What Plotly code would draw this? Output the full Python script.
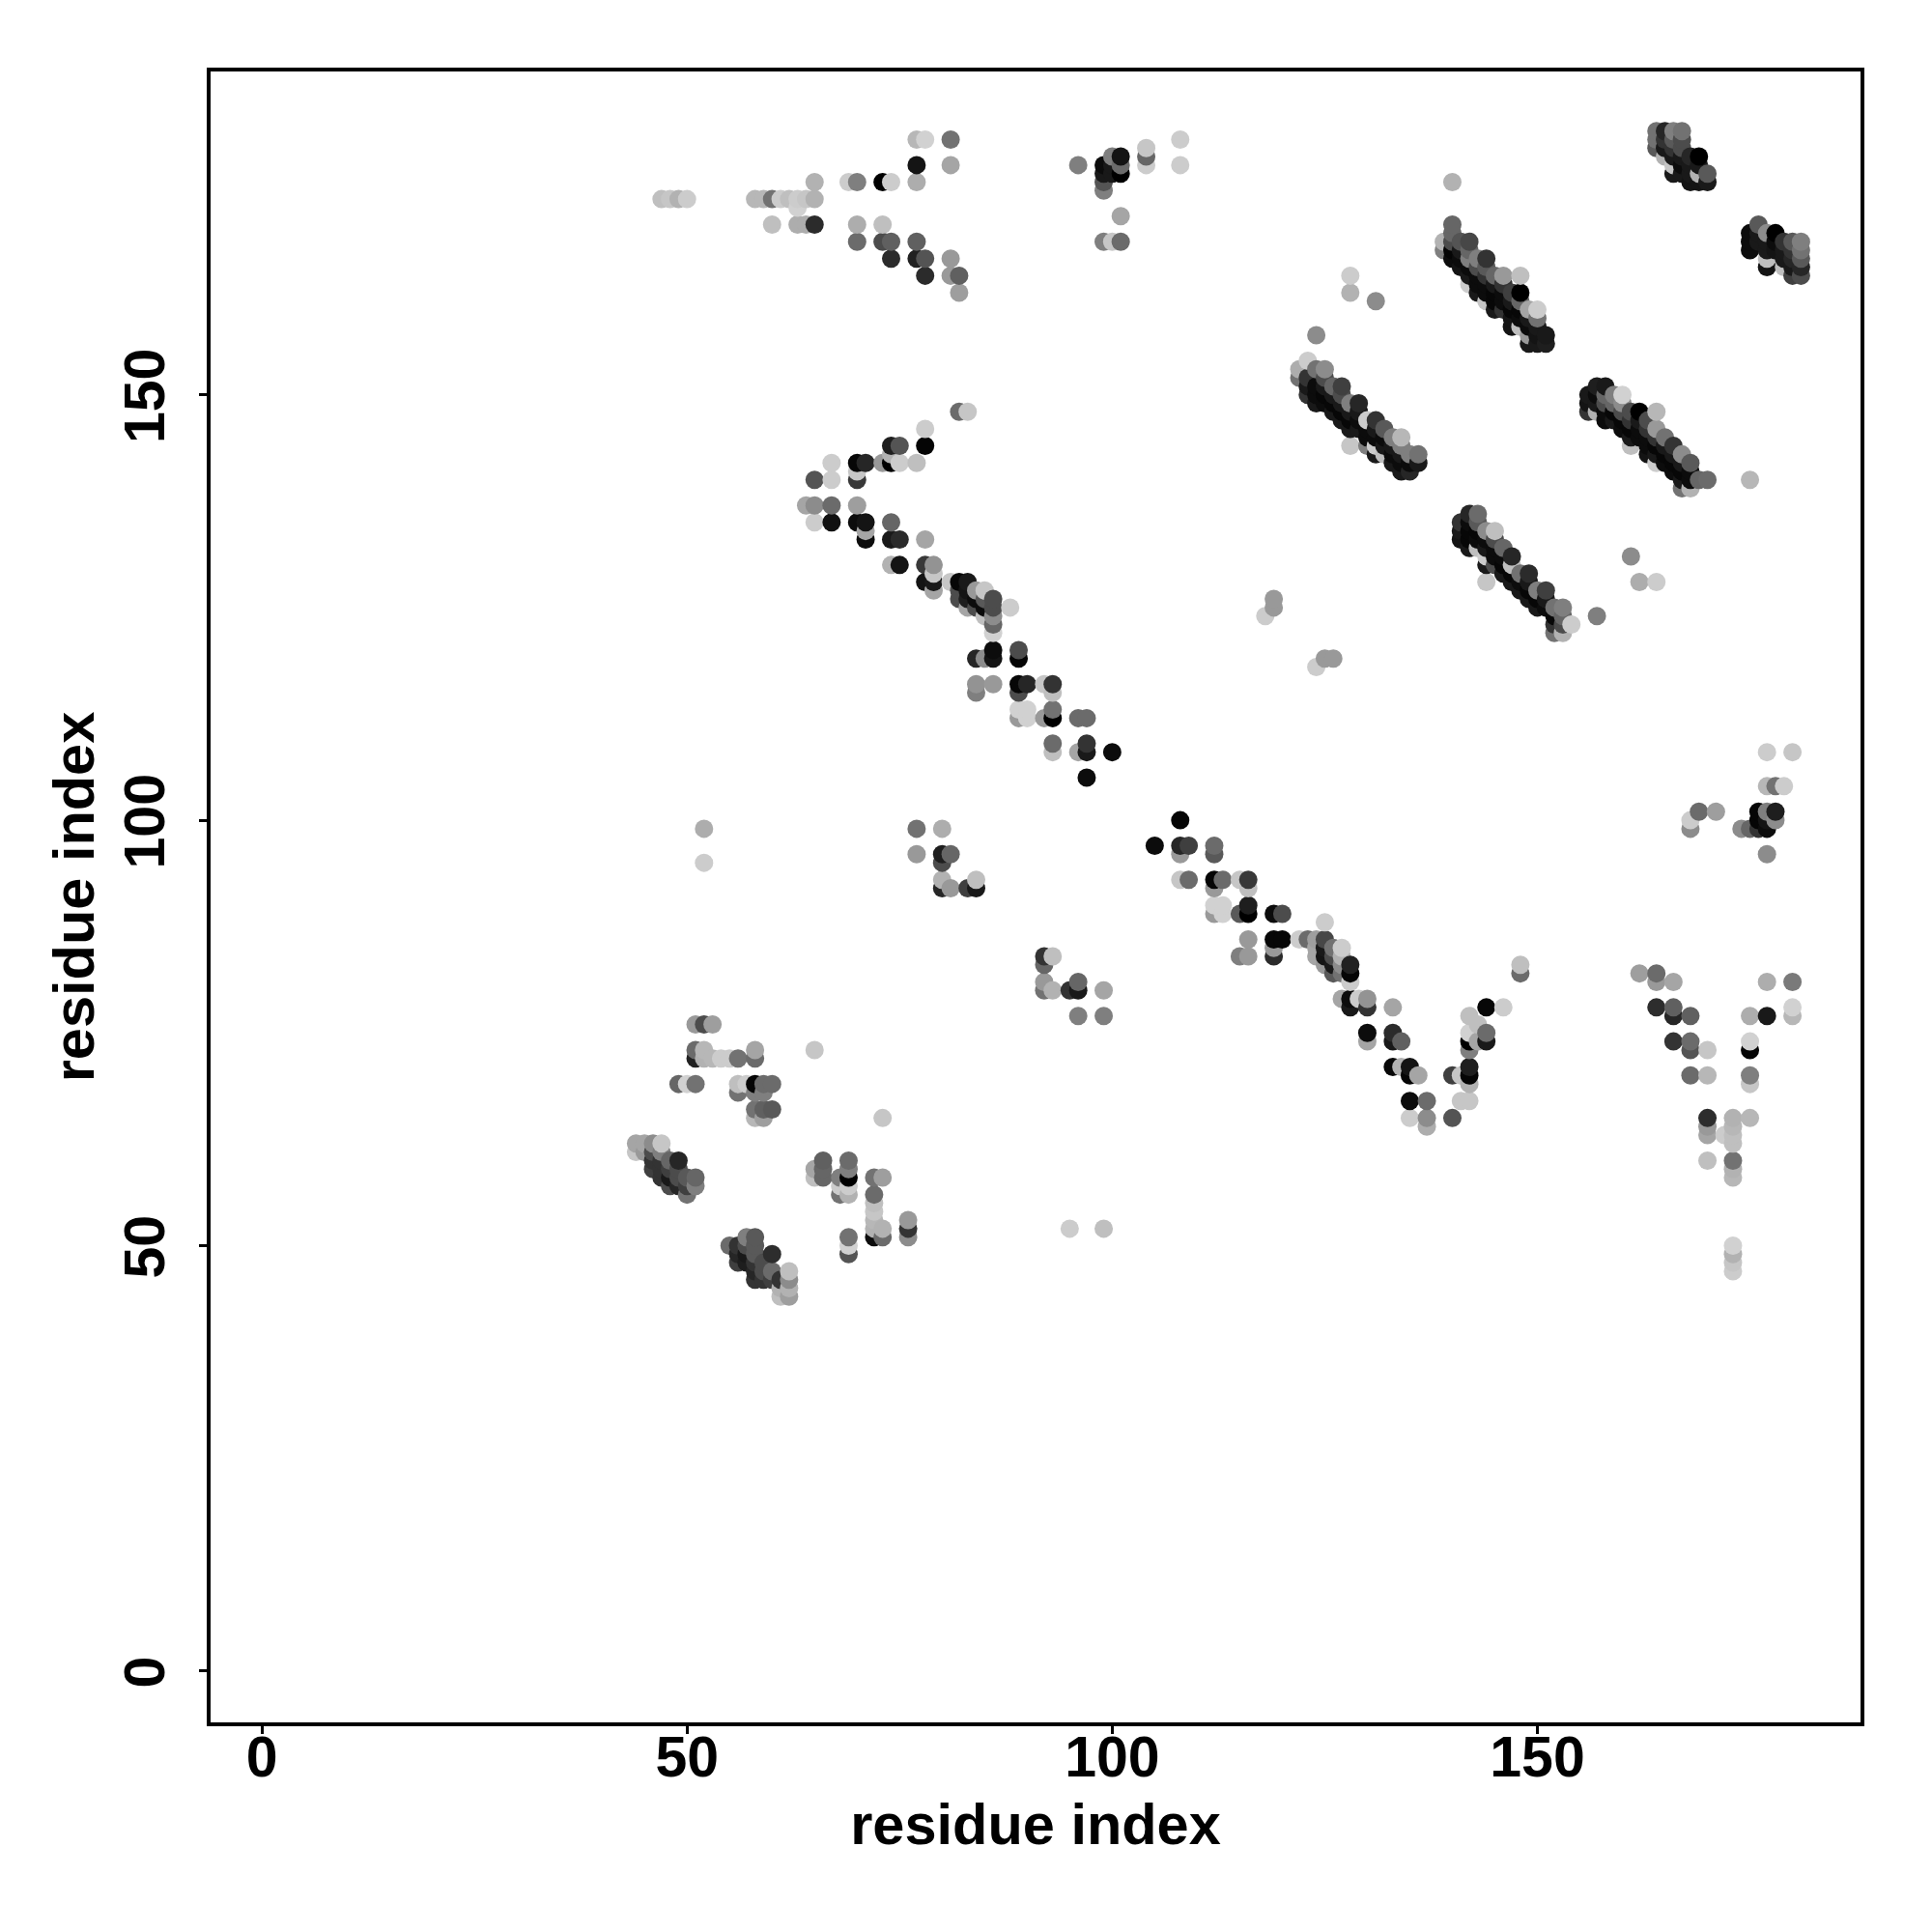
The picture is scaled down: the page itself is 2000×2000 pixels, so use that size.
import numpy as np
import plotly.graph_objects as go

tick_values = [0, 50, 100, 150]
axis_label = "residue index"

top_left_x = [77,78,81,77,81,96,104,108,108,104,104,65,69,70,73,74,77,47,48,49,50,58,59,60,61,62,63,64,65,63,60,63,64,65,70,73,70,73,74,77,99,100,101,74,77,78,81,78,81,82,82,100,101,99,101,99,100,101,99,99,101,100]
top_left_y = [180,180,180,177,177,177,177,177,180,179,178,175,175,175,175,175,175,173,173,173,173,173,173,173,173,173,173,173,173,172,170,170,170,170,170,170,168,168,168,168,168,168,168,166,166,166,166,164,164,164,162,178,178,177,177,176,176,176,175,174,171,177]
top_left_s = [.72,.82,.45,.08,.65,.5,.8,.8,.8,.78,.4,.7,.8,.5,0,.8,.68,.75,.78,.7,.8,.72,.72,.45,.8,.75,.8,.78,.7,.82,.75,.68,.68,.17,.68,.75,.42,.3,.38,.38,.5,.78,.42,.17,.13,.33,.6,.17,.6,.38,.62,.5,.08,.05,.42,.1,.1,0,.33,.5,.65,.1]

chain_a_x = [82,83,78,74,75,78,73,74,75,77,70,71,67,65,67,70,70,74,64,65,67,70,65,67,70,71,74,71,71,74,75,78,74,75,78,79,79,78,79,81,82,83,79,82,83,84,85,82,83,84,85,86,83,84,85,86,88,85,86,86,86,86,89,84,85,86,89,84,86,89,90,92,93,84,89,93,89,90,93,89,90,92,93,96,97,93,97,93,96,97,100,97]
chain_a_y = [148,148,146,144,144,144,142,142,142,142,142,142,142,140,140,140,141,143,137,137,137,137,135,135,135,135,135,134,133,133,133,133,130,130,130,130,129,128,128,128,128,128,127,127,127,127,127,126,126,126,126,126,125,125,125,125,125,124,124,123,122,120,120,119,119,119,119,116,116,116,116,116,116,115,115,115,113,113,113,112,112,112,112,112,112,109,109,108,108,108,108,105]
chain_a_s = [.42,.78,.8,.12,.33,.02,.6,0,.8,.75,.03,.15,.8,.33,.8,.22,.78,.7,.65,.55,.42,.62,.8,.07,.05,.08,.4,.65,.05,.1,.17,.65,.7,.08,.22,.58,.78,.08,.1,.78,.03,.1,.65,.3,.08,.6,.78,.3,.12,.05,.35,.3,.65,.3,.05,.3,.8,.75,.55,.4,.82,.05,.3,.15,.55,.08,.02,.58,.6,.03,.15,.78,.2,.5,.3,.75,.82,.82,.45,.6,.82,.6,0,.42,.42,.42,.2,.75,.65,.1,.05,.05]

chain_b_x = [108,105,108,109,112,108,112,108,109,112,113,115,116,112,116,116,112,113,112,113,115,116,119,120,125,116,119,120,122,123,124,125,119,124,125,126,127,115,116,119,124,125,126,127,125,126,127,128,126,127,128,148,148,128,127,128,129,130,128,130,133,144,146,142,130,133,142,144,130,133,134,142,143,144,142,133,134,135,142,135,136,140,141,142,135,137,141,142,135,137,140,137,142,143]
chain_b_y = [100,97,97,97,97,96,96,93,93,93,93,93,93,92,92,90,90,90,89,89,89,89,89,89,88,86,86,86,86,86,86,86,85,85,85,85,85,84,84,84,84,84,84,84,83,83,83,83,82,82,82,82,83,81,79,79,79,79,78,78,78,78,78,77,75,75,75,75,74,74,74,74,74,74,73,71,71,71,71,70,70,70,70,70,67,67,67,67,65,65,65,64,69,76]
chain_b_s = [.02,.05,.15,.25,.42,.6,.35,.78,.42,.02,.42,.78,.22,.6,.75,.12,.82,.82,.6,.82,.35,0,.05,.3,.8,.6,.03,.03,.8,.42,.62,.28,.6,.65,.1,.45,.8,.5,.6,.17,.65,.08,.3,.7,.6,.1,.55,.13,.35,.45,.02,.42,.75,.8,.65,.05,.8,.58,.1,.2,.65,.03,.8,.75,.05,.17,.82,.42,.65,.1,.38,0,.65,.1,.5,.03,.7,.08,.12,.02,.65,.25,.78,.02,.05,.42,.78,.78,.8,.55,.33,.68,.7,.75]

right_x = [169,171,176,177,178,168,176,177,178,168,174,175,176,177,177,177,180,177,178,179,162,164,164,166,177,180,164,166,180,166,168,175,177,180,166,168,175,168,170,175,168,170,175,175,170,173,175,170,170,172,173,173,173,170,173,173,173,173,173,173,173]
right_y = [101,101,101,101,101,100,100,100,100,99,99,99,99,99,96,108,108,104,104,104,82,82,81,81,81,81,78,78,78,77,77,77,77,77,74,74,74,73,73,73,70,70,70,69,65,65,65,64,63,63,64,63,62,60,60,59,58,50,49,48,47]
right_s = [.42,.62,.02,.5,.12,.8,.02,.08,.55,.55,.55,.4,.2,.05,.55,.8,.78,.72,.45,.8,.62,.42,.6,.65,.68,.48,.18,.38,.82,.15,.38,.68,.1,.72,.2,.42,.82,.33,.78,.02,.42,.72,.5,.78,.18,.7,.72,.6,.65,.8,.72,.75,.75,.75,.45,.7,.72,.82,.7,.78,.8]

low_left_x = [51,52,53,51,52,58,65,51,52,53,54,55,56,58,49,50,51,56,57,58,59,60,56,58,59,58,59,60,58,59,73,44,45,46,47,44,45,46,47,46,47,48,49,46,47,48,49,47,48,49,50,51,48,49,50,51,50]
low_left_y = [76,76,76,73,73,73,73,72,72,72,72,72,72,72,69,69,69,69,69,69,69,69,68,68,68,66,66,66,65,65,65,62,62,62,62,61,61,61,61,60,60,60,60,59,59,59,59,58,58,58,58,58,57,57,57,57,56]
low_left_s = [.6,.3,.62,.42,.72,.65,.78,.13,.7,.72,.8,.8,.45,.42,.4,.82,.45,.75,.8,.02,.42,.42,.45,.5,.5,.45,.38,.35,.72,.62,.78,.65,.65,.55,.78,.78,.6,.3,.5,.2,.2,.4,.15,.25,.2,.25,.3,.2,.1,.3,.35,.4,.3,.15,.25,.5,.45]

low_mid_x = [57,58,55,56,57,58,56,57,58,60,56,57,58,59,58,59,60,62,58,59,60,61,62,61,62,61,62,66,69,65,66,69,65,66,68,69,72,73,68,69,68,69,72,72,72,72,76,72,73,76,69,72,73,76,69,69,95,99,52,52,77,80,77,80,81,80,80,84,80,81,83,84,92,93,92,92,92,93,95,96,96,99,96,99]
low_mid_y = [51,51,50,50,50,50,49,49,49,49,48,48,48,48,47,47,47,47,46,46,46,46,46,45,45,44,44,60,60,59,59,59,58,58,58,58,58,58,57,57,56,56,56,55,54,53,53,52,52,52,51,51,51,51,50,49,52,52,99,95,99,99,96,96,96,95,93,93,92,92,92,92,84,84,83,81,80,80,80,81,80,80,77,77]
low_mid_s = [.5,.35,.42,.2,.3,.35,.15,.1,.35,.18,.25,.12,.2,.3,.15,.3,.42,.75,.2,.2,.25,.2,.55,.7,.7,.75,.62,.38,.42,.65,.4,.5,.75,.4,.5,0,.45,.62,.8,.8,.45,.7,.42,.75,.78,.72,.6,.7,.7,.2,.45,.05,.42,.55,.82,.33,.8,.75,.68,.8,.45,.68,.6,.12,.4,.3,.7,.75,.15,.6,.25,.1,.2,.75,.4,.6,.45,.7,.2,.4,.1,.65,.5,.5]

sparse_x = [118,119,119,124,125,126,157,161,162,164,124,128,128,131,175,140]
sparse_y = [124,126,125,118,119,119,124,131,128,128,157,164,162,161,140,175]
sparse_s = [.8,.6,.6,.8,.6,.6,.5,.55,.68,.8,.55,.8,.7,.55,.72,.7]

band1_x = [139,139,140,140,140,140,140,141,141,141,141,142,142,142,142,142,142,143,143,143,143,143,144,144,144,144,144,144,145,145,145,145,145,146,146,146,146,146,147,147,147,147,147,148,148,148,148,148,148,149,149,149,149,149,150,150,150,150,150,151,151]
band1_y = [167,168,166,167,168,169,170,165,166,167,168,163,164,165,166,167,168,162,163,164,165,166,161,162,163,164,165,166,160,161,162,163,164,160,161,162,163,164,158,159,160,161,162,158,159,160,161,162,164,156,157,158,159,160,156,157,158,159,160,156,157]
band1_s = [.5,.7,.05,.02,.3,.4,.4,.08,.05,.1,.33,.8,.1,.05,.5,.4,.28,.1,.05,.05,.3,.5,.78,.05,.05,.2,.35,.2,.1,.03,.03,.1,.4,.2,.05,.05,.2,.6,.08,.08,.03,.1,.25,.75,.05,.03,.4,0,.75,.1,.6,.05,.1,.65,.1,.08,.1,.45,.8,.12,.1]

band2_x = [122,122,123,123,123,123,124,124,124,124,125,125,125,125,125,126,126,126,126,127,127,127,127,127,128,128,128,128,128,129,129,129,129,130,130,130,130,131,131,131,131,131,132,132,132,132,133,133,133,133,134,134,134,134,134,135,135,135,136,136]
band2_y = [152,153,150,151,152,154,149,150,151,153,149,150,151,152,153,148,149,150,151,147,148,149,150,151,144,146,147,148,149,146,147,148,149,144,145,146,147,143,144,145,146,147,143,144,145,146,142,143,144,145,141,142,143,144,145,141,142,143,142,143]
band2_s = [.45,.68,.2,.1,.2,.8,.1,.05,.05,.45,.05,.03,.1,.3,.55,.1,.03,.1,.4,.1,.03,.1,.3,.25,.78,.1,.03,.1,.5,.1,.05,.1,.15,.5,.05,.05,.8,.1,.8,.05,.1,.2,.75,.1,.05,.35,.1,.05,.1,.5,.1,.05,.1,.5,.72,.15,.05,.5,.1,.45]

band3_x = [156,156,156,157,157,157,157,158,158,158,158,158,159,159,159,159,160,160,160,160,160,161,161,161,161,161,162,162,162,162,163,163,163,163,163,164,164,164,164,164,164,165,165,165,165,166,166,166,166,167,167,167,167,167,168,168,168,168,169,170]
band3_y = [148,149,150,148,149,150,151,147,148,149,150,151,147,148,149,150,146,147,148,149,150,144,145,146,147,148,145,146,147,148,143,144,145,146,147,142,143,144,145,146,148,142,143,144,145,141,142,143,144,139,140,141,142,143,139,140,141,142,140,140]
band3_s = [.2,.08,.1,.7,.1,.05,.12,.05,.05,.3,.4,.1,.1,.03,.4,.5,.05,.03,.3,.55,.82,.75,.1,.03,.2,.3,.05,.05,.1,0,.08,.05,.05,.2,.3,.8,.1,.03,.2,.6,.72,.05,.03,.1,.45,.05,.03,.1,.2,.45,.1,.03,.1,.55,.7,.05,.05,.35,.4,.42]

band4_x = [141,141,141,142,142,142,142,142,143,143,143,143,143,144,144,144,144,144,144,145,145,145,145,145,146,146,146,146,147,147,147,147,148,148,148,149,149,149,149,150,150,150,151,151,151,152,152,152,152,153,153,153,153,154]
band4_y = [133,134,135,132,133,134,135,136,132,133,134,135,136,128,130,131,132,133,134,130,131,132,133,134,129,130,131,132,128,129,130,131,127,128,129,126,127,128,129,125,126,127,125,126,127,122,123,124,125,122,123,124,125,123]
band4_s = [.08,.1,.2,.1,.03,.03,.05,.15,.75,.05,.03,.35,.42,.78,.1,.8,.1,.05,.55,.3,.05,.05,.3,.75,.1,.03,.05,.4,.1,.03,.75,.15,.1,.05,.45,.1,.03,.1,.17,.1,.03,.5,.05,.1,.25,.45,.2,.03,.45,.7,.3,.4,.5,.8]

top_right_x = [164,164,164,165,165,165,165,166,166,166,166,166,166,167,167,167,167,167,167,168,168,168,168,169,169,169,169,170,170]
top_right_y = [179,180,181,178,179,180,181,176,177,178,179,180,181,176,177,178,179,180,181,175,176,177,178,175,176,177,178,175,176]
top_right_s = [.35,.45,.45,.7,.1,.2,.15,.1,.78,.1,.2,.35,.5,.1,.05,.1,.3,.3,.45,.08,.1,.1,.15,.08,.7,.1,0,.1,.35]

far_right_x = [175,175,175,176,176,176,177,177,177,177,177,178,178,178,179,179,179,179,180,180,180,180,180,181,181,181,181,181]
far_right_y = [167,168,169,168,169,170,165,166,167,168,169,167,168,169,165,166,167,168,164,165,166,167,168,164,165,166,167,168]
far_right_s = [.05,.05,.05,.1,.1,.35,.08,.75,.1,.1,.55,.08,.05,0,.75,.1,.1,.2,.25,.1,.15,.2,.35,.3,.15,.35,.45,.5]

groups = [
    (top_left_x, top_left_y, top_left_s), (chain_a_x, chain_a_y, chain_a_s),
    (chain_b_x, chain_b_y, chain_b_s), (right_x, right_y, right_s),
    (low_left_x, low_left_y, low_left_s), (low_mid_x, low_mid_y, low_mid_s),
    (sparse_x, sparse_y, sparse_s), (band1_x, band1_y, band1_s),
    (band2_x, band2_y, band2_s), (band3_x, band3_y, band3_s),
    (band4_x, band4_y, band4_s), (top_right_x, top_right_y, top_right_s),
    (far_right_x, far_right_y, far_right_s),
]
for i, g in enumerate(groups):
    assert len(g[0]) == len(g[1]) == len(g[2]), (i, len(g[0]), len(g[1]), len(g[2]))

x = np.concatenate([g[0] for g in groups])
y = np.concatenate([g[1] for g in groups])
s = np.concatenate([g[2] for g in groups], dtype=float)
order = np.lexsort((y, x))
x, y, s = x[order], y[order], s[order]
colors = [f"rgb({int(v*255)},{int(v*255)},{int(v*255)})" for v in s]

fig = go.Figure(go.Scatter(x=x, y=y, mode="markers",
                           marker=dict(size=19, color=colors, line=dict(width=0)),
                           showlegend=False))
tick_font = dict(family="Liberation Sans", size=59, color="black", weight=700)
title_font = dict(family="Liberation Sans", size=59.5, color="black", weight=700)
common = dict(range=[-6.03, 188.0], tickvals=tick_values, ticks="outside", ticklen=8,
              tickwidth=3, tickcolor="black", showgrid=False, zeroline=False,
              showline=True, linecolor="black", linewidth=3.5, mirror=True, tickfont=tick_font)
fig.update_xaxes(title=dict(text=axis_label, font=title_font, standoff=18), ticklabelstandoff=-27, **common)
fig.update_yaxes(title=dict(text=axis_label, font=title_font, standoff=0.5), tickangle=-90,
                 ticklabelstandoff=13, ticklabelshift=10, **common)
fig.update_layout(width=1990, height=1990, paper_bgcolor="white", plot_bgcolor="white",
                  margin=dict(l=210, r=71.5, t=66, b=215.3, autoexpand=False))
fig.write_html("out.html")
